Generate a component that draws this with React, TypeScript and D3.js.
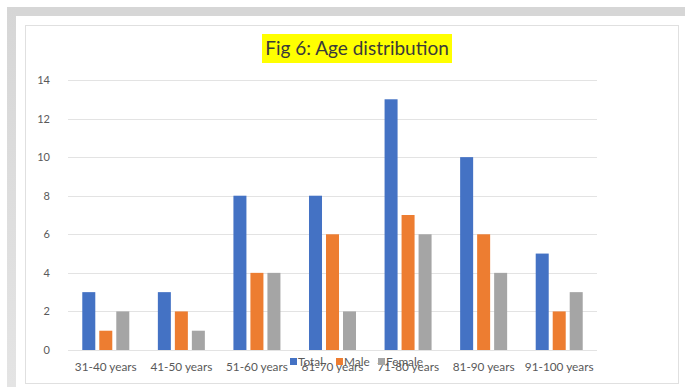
import React from "react";
import * as d3 from "d3";

const categories = ["31-40 years", "41-50 years", "51-60 years", "61-70 years", "71-80 years", "81-90 years", "91-100 years"];
const seriesNames = ["Total", "Male", "Female"];
const totalValues = [3, 3, 8, 8, 13, 10, 5];
const maleValues = [1, 2, 4, 6, 7, 6, 2];
const femaleValues = [2, 1, 4, 2, 6, 4, 3];
const yTicks = [0, 2, 4, 6, 8, 10, 12, 14];
const titleText = "Fig 6: Age distribution";

const colors = ["#4472C4", "#ED7D31", "#A5A5A5"];
const FONT = "Lato, 'Open Sans', sans-serif";

export default function App() {
  const W = 686, H = 387;
  const plotLeft = 68, plotRight = 597, plotTop = 80, plotBottom = 350;
  const series = [totalValues, maleValues, femaleValues];

  const x0 = d3.scaleBand<string>().domain(categories).range([plotLeft, plotRight]).paddingInner(0.378).paddingOuter(0.189);
  const x1 = d3.scaleBand<string>().domain(seriesNames).range([0, x0.bandwidth()]).paddingInner(0.235);
  const y = d3.scaleLinear().domain([0, 14]).range([plotBottom, plotTop]);

  const legendX = [290, 336, 378];

  return (
    <svg width={W} height={H} style={{ position: "absolute", left: 0, top: 0, background: "#fff" }}>
      <defs>
        <linearGradient id="leftBand" x1="0" y1="0" x2="0" y2="1">
          <stop offset="0" stopColor="#d6d6d6" />
          <stop offset="1" stopColor="#e4e4e4" />
        </linearGradient>
      </defs>
      <rect x={0} y={0} width={W} height={H} fill="#fff" />
      {/* gray frame */}
      <rect x={7} y={7} width={678} height={9} fill="#d6d6d6" />
      <rect x={7} y={7} width={9} height={380} fill="url(#leftBand)" />
      {/* chart box */}
      <rect x={25.5} y={25.5} width={653} height={358} fill="#fff" stroke="#e0e0e0" strokeWidth={1} />
      {/* title */}
      <rect x={262} y={34} width={190} height={29} fill="#ffff00" />
      <text x={357} y={55} textAnchor="middle" fontFamily={FONT} fontSize={19} fill="#3a3a3a">{titleText}</text>
      {/* gridlines */}
      {yTicks.map((t) => (
        <g key={t}>
          <line x1={plotLeft} x2={plotRight} y1={Math.round(y(t)) + 0.5} y2={Math.round(y(t)) + 0.5} stroke="#e3e3e3" strokeWidth={1} />
          <text x={50} y={y(t) + 4} textAnchor="end" fontFamily={FONT} fontSize={11} fill="#595959">{t}</text>
        </g>
      ))}
      {/* bars */}
      {categories.map((c, i) => (
        <g key={c} transform={`translate(${x0(c)},0)`}>
          {seriesNames.map((s, j) => (
            <rect key={s} x={x1(s)} y={y(series[j][i])} width={x1.bandwidth()} height={plotBottom - y(series[j][i])} fill={colors[j]} />
          ))}
        </g>
      ))}
      {/* x labels */}
      {categories.map((c) => (
        <text key={c} x={(x0(c) as number) + x0.bandwidth() / 2} y={371} textAnchor="middle" fontFamily={FONT} fontSize={11.8} fill="#595959">{c}</text>
      ))}
      {/* legend */}
      {seriesNames.map((s, j) => (
        <g key={s}>
          <rect x={legendX[j]} y={358} width={7} height={7} fill={colors[j]} />
          <text x={legendX[j] + 8} y={366} fontFamily={FONT} fontSize={11.8} fill="#595959">{s}</text>
        </g>
      ))}
    </svg>
  );
}
